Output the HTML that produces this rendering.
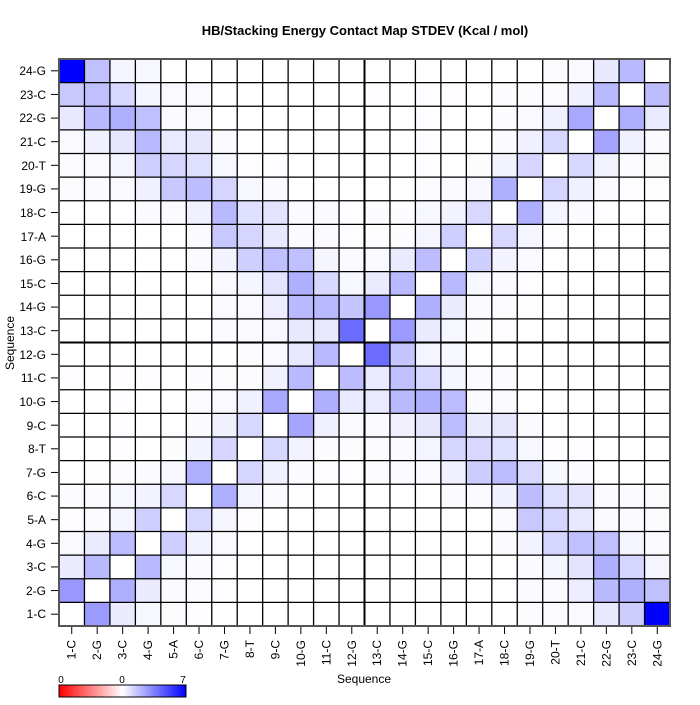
<!DOCTYPE html>
<html><head><meta charset="utf-8"><style>
html,body{margin:0;padding:0;background:#fff;}
svg text{font-family:"Liberation Sans",sans-serif;}
</style></head><body>
<svg id="s" width="700" height="700" xmlns="http://www.w3.org/2000/svg">
<rect width="700" height="700" fill="#fff"/>
<g id="cells"></g>
<g id="grid" stroke="#000" stroke-width="1.3"></g>
<line x1="364.5" y1="59" x2="364.5" y2="626" stroke="#000" stroke-width="2"/>
<line x1="59" y1="342.5" x2="670" y2="342.5" stroke="#000" stroke-width="2"/>
<rect x="59" y="59" width="611" height="567" fill="none" stroke="#555" stroke-width="2"/>
<text x="365" y="35" text-anchor="middle" font-size="13" font-weight="bold">HB/Stacking Energy Contact Map STDEV (Kcal / mol)</text>
<text x="364" y="683" text-anchor="middle" font-size="12">Sequence</text>
<text transform="translate(14,343) rotate(-90)" text-anchor="middle" font-size="12">Sequence</text>
<g id="ylab" font-size="12" text-anchor="end">
<text x="46" y="75">24-G</text><text x="46" y="99">23-C</text><text x="46" y="122">22-G</text><text x="46" y="146">21-C</text>
<text x="46" y="170">20-T</text><text x="46" y="193">19-G</text><text x="46" y="217">18-C</text><text x="46" y="241">17-A</text>
<text x="46" y="264">16-G</text><text x="46" y="288">15-C</text><text x="46" y="311">14-G</text><text x="46" y="335">13-C</text>
<text x="46" y="359">12-G</text><text x="46" y="382">11-C</text><text x="46" y="406">10-G</text><text x="46" y="430">9-C</text>
<text x="46" y="453">8-T</text><text x="46" y="477">7-G</text><text x="46" y="500">6-C</text><text x="46" y="524">5-A</text>
<text x="46" y="548">4-G</text><text x="46" y="571">3-C</text><text x="46" y="595">2-G</text><text x="46" y="618">1-C</text>
</g>
<g id="xlab" font-size="12" text-anchor="end"></g>
<g id="ticks" stroke="#000" stroke-width="1"></g>
<defs><linearGradient id="lg" x1="0" x2="1" y1="0" y2="0">
<stop offset="0" stop-color="#f00"/><stop offset="0.5" stop-color="#fff"/><stop offset="1" stop-color="#00f"/></linearGradient></defs>
<rect x="59" y="685" width="127" height="12" fill="url(#lg)" stroke="#000" stroke-width="1"/>
<text x="61" y="683" text-anchor="middle" font-size="10">0</text>
<text x="122" y="683" text-anchor="middle" font-size="10">0</text>
<text x="183" y="683" text-anchor="middle" font-size="10">7</text>
</svg>
<script>
var TL=[
[255,63,10,8,0,0,0,0,0,0,0,0],
[55,63,40,10,6,6,0,0,0,0,0,0],
[23,70,80,63,5,6,0,0,0,0,0,0],
[6,15,25,70,22,25,5,0,0,0,0,0],
[3,5,10,48,42,32,8,2,2,0,0,0],
[3,5,6,15,55,67,42,8,5,0,0,0],
[0,0,0,5,5,15,70,32,27,5,5,2],
[0,0,0,0,0,5,55,42,23,5,5,2],
[0,0,0,0,0,5,12,48,63,63,10,5],
[0,0,0,0,0,0,6,10,27,80,40,8],
[0,0,0,0,0,0,6,6,18,70,70,58],
[0,0,0,0,0,0,5,5,8,23,23,147]];
var TR=[
[0,0,0,0,0,0,0,3,6,23,70,0],
[2,0,2,2,0,3,3,3,15,70,0,67],
[0,0,2,0,0,3,6,15,87,0,80,22],
[0,0,2,0,0,5,15,40,0,90,15,5],
[0,0,2,0,3,12,42,0,40,12,3,3],
[0,2,3,5,8,80,0,42,15,5,2,2],
[3,3,8,12,40,0,80,10,5,2,0,0],
[2,3,10,48,0,40,10,2,0,0,0,0],
[6,20,67,0,48,12,6,0,0,0,0,0],
[20,70,0,70,8,5,2,0,0,0,0,0],
[103,0,80,20,5,3,2,0,0,0,0,0],
[0,100,20,8,3,2,0,0,0,0,0,0]];
var BR=[
[147,58,10,8,0,0,0,0,0,0,0,0],
[22,63,40,10,5,5,0,0,0,0,0,0],
[22,70,80,67,5,5,0,0,0,0,0,0],
[5,15,25,67,20,25,5,0,0,0,0,0],
[3,5,10,42,40,32,8,2,2,0,0,0],
[3,5,6,15,51,67,40,8,5,0,0,0],
[0,0,0,5,5,15,67,32,27,5,5,3],
[0,0,0,0,0,5,55,42,23,5,5,3],
[0,0,0,0,0,5,12,42,63,63,10,5],
[0,0,0,0,0,0,5,10,27,80,42,10],
[0,0,0,0,0,0,5,5,18,70,80,63],
[0,0,0,0,0,0,3,3,6,23,51,255]];
var NS="http://www.w3.org/2000/svg";
var X0=59,Y0=59,W=611/24,H=567/24;
var cells=document.getElementById("cells"),grid=document.getElementById("grid");
function el(t,a,p){var e=document.createElementNS(NS,t);for(var k in a)e.setAttribute(k,a[k]);p.appendChild(e);return e;}
for(var r=0;r<24;r++)for(var c=0;c<24;c++){
 var k;
 if(r<12&&c<12)k=TL[r][c];else if(r<12)k=TR[r][c-12];else if(c<12)k=TR[r-12][c];else k=BR[r-12][c-12];
 var v=255-k;
 el("rect",{x:X0+c*W,y:Y0+r*H,width:W+0.5,height:H+0.5,fill:"rgb("+v+","+v+",255)"},cells);
}
for(var i=1;i<24;i++){
 el("line",{x1:X0+i*W,y1:Y0,x2:X0+i*W,y2:Y0+567},grid);
 el("line",{x1:X0,y1:Y0+i*H,x2:X0+611,y2:Y0+i*H},grid);
}
var names=["1-C","2-G","3-C","4-G","5-A","6-C","7-G","8-T","9-C","10-G","11-C","12-G","13-C","14-G","15-C","16-G","17-A","18-C","19-G","20-T","21-C","22-G","23-C","24-G"];
var xl=document.getElementById("xlab"),tk=document.getElementById("ticks");
for(var i=0;i<24;i++){
 var cx=X0+(i+0.5)*W;
 var t=el("text",{transform:"translate("+(cx+4)+",640) rotate(-90)"},xl);t.textContent=names[i];
 el("line",{x1:cx,y1:627,x2:cx,y2:634},tk);
 var cy=Y0+(23-i+0.5)*H;
 el("line",{x1:51,y1:cy,x2:58,y2:cy},tk);
}
</script>
</body></html>
